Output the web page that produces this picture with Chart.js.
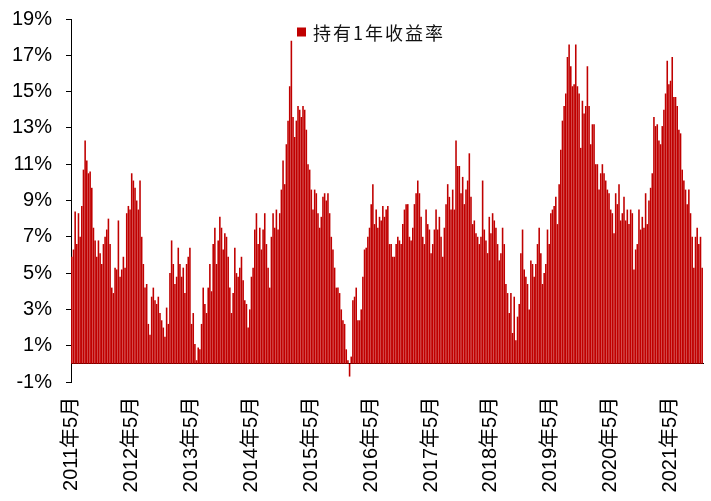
<!DOCTYPE html>
<html><head><meta charset="utf-8">
<script src="https://cdn.jsdelivr.net/npm/chart.js@4/dist/chart.umd.min.js"></script>
<style>html,body{margin:0;padding:0;background:#fff;overflow:hidden}</style>
</head><body>
<canvas id="c" width="711" height="501"></canvas>
<script>
const startYear = 2011, startMonth = 5;
const periodNames = ['上旬', '中旬', '下旬'];
const tickLabels = ['2011年5月','2012年5月','2013年5月','2014年5月','2015年5月','2016年5月','2017年5月','2018年5月','2019年5月','2020年5月','2021年5月'];
const seriesName = '持有1年收益率';
const returns1y = [
5.9,6.3,8.4,6.6,8.3,7.0,8.7,10.7,12.3,11.2,
10.5,10.6,9.7,7.5,6.8,5.9,6.8,6.1,5.5,6.6,
7.0,7.4,8.0,6.6,4.2,3.9,5.3,5.2,7.9,4.8,
5.2,5.9,5.3,8.3,8.7,8.5,10.5,10.1,9.7,9.0,
8.5,10.1,7.0,5.5,4.2,4.4,2.2,1.6,3.7,4.2,
3.5,3.3,3.7,2.8,2.4,2.0,1.5,3.1,2.2,5.0,
6.8,5.5,4.4,4.8,6.4,5.5,4.8,5.3,3.9,5.5,
5.9,6.4,2.2,2.8,1.1,0.2,0.9,0.8,2.2,4.2,
3.3,2.8,4.2,5.5,4.0,6.6,7.5,5.5,6.8,8.1,
7.5,6.3,7.2,7.0,5.9,4.2,2.8,3.9,6.4,5.0,
4.8,5.3,5.9,4.6,3.5,3.3,2.0,3.0,4.8,5.3,
7.4,8.3,6.6,7.5,6.3,7.4,8.3,6.6,5.3,4.2,
7.0,8.3,7.5,8.5,7.4,8.3,9.6,11.2,9.9,12.1,
13.4,15.3,17.8,13.6,12.5,13.4,14.2,14.0,13.6,14.2,
14.0,12.9,11.0,10.7,9.6,8.5,9.6,9.4,8.3,7.5,
8.1,9.2,9.4,9.0,9.4,8.3,7.0,6.3,5.3,4.2,
4.2,3.9,3.0,2.4,2.2,0.8,0.2,-0.7,0.4,3.5,
3.7,4.2,2.4,2.4,3.0,4.8,6.3,6.4,7.0,7.5,
8.8,9.9,7.7,8.5,7.5,8.1,7.9,8.7,8.1,8.5,
8.7,6.6,6.6,5.9,5.9,6.6,7.0,6.8,6.6,7.7,
8.5,8.8,8.8,7.0,6.8,7.5,8.8,9.4,10.1,9.4,
8.1,7.0,6.6,8.5,7.7,7.4,6.1,6.6,7.4,8.5,
7.4,8.1,7.0,5.9,7.5,8.8,9.9,9.2,8.5,9.6,
8.5,12.3,10.9,10.9,9.4,10.3,8.8,9.6,10.1,11.6,
9.2,7.7,7.9,7.2,7.0,6.6,7.0,10.1,7.4,6.8,
6.1,8.1,7.2,8.3,7.9,7.5,6.6,5.7,6.1,7.5,
6.6,4.4,3.9,2.8,3.9,1.7,3.7,1.3,2.6,3.3,
6.1,7.4,5.2,4.8,4.4,3.0,5.7,5.5,4.8,5.5,
6.6,7.5,6.1,4.4,5.0,5.5,7.4,6.6,8.3,8.5,
8.7,9.2,7.7,9.9,11.8,13.4,14.2,14.9,16.9,17.6,
16.4,15.3,15.4,17.6,15.3,14.9,11.9,14.5,13.8,14.2,
16.4,14.2,12.1,13.2,13.2,11.0,11.0,9.6,10.5,11.0,
10.5,10.1,9.6,9.4,8.5,8.3,7.2,9.4,8.8,9.9,
7.9,8.3,9.2,7.9,8.5,7.7,8.5,8.3,5.2,6.3,
6.6,8.5,7.4,8.1,7.5,9.4,7.7,9.0,9.7,10.5,
13.6,13.1,13.2,12.3,12.1,13.1,14.0,14.9,16.7,15.4,
15.6,16.9,14.7,14.7,14.2,12.9,12.7,10.7,10.1,9.6,
8.8,9.6,8.3,7.0,5.3,7.0,7.5,6.6,7.0,5.3
];
const categories = returns1y.map((_, i) => {
  const m = startMonth - 1 + Math.floor(i / 3);
  return (startYear + Math.floor(m / 12)) + '年' + (m % 12 + 1) + '月' + periodNames[i % 3];
});
const periodsPerYear = 36;
const barColor = '#C00000';
const fontFamily = "'Liberation Sans', 'Noto Sans CJK SC', sans-serif";

const topLegend = {
  id: 'topLegend',
  afterDraw(chart) {
    const ctx = chart.ctx, a = chart.chartArea;
    const x = a.left + 226, y = a.top + 13;
    ctx.save();
    ctx.fillStyle = barColor;
    ctx.fillRect(x, y - 4.5, 9, 9);
    ctx.fillStyle = '#111';
    ctx.font = "18px 'Noto Sans CJK SC'";
    ctx.textBaseline = 'middle';
    ctx.textAlign = 'left';
    try { ctx.letterSpacing = '2px'; } catch (e) {}
    ctx.fillText(seriesName, x + 16, y + 1);
    ctx.restore();
  }
};

new Chart(document.getElementById('c'), {
  type: 'bar',
  data: {
    labels: categories,
    datasets: [{
      label: seriesName,
      data: returns1y,
      backgroundColor: barColor,
      borderWidth: 0,
      barPercentage: 0.95,
      categoryPercentage: 1.0
    }]
  },
  options: {
    responsive: false,
    animation: false,
    events: [],
    layout: { padding: { left: 0, right: 8, top: 19, bottom: 119 } },
    plugins: { legend: { display: false }, tooltip: { enabled: false } },
    scales: {
      x: {
        position: { y: 0 },
        offset: true,
        grid: {
          drawOnChartArea: false,
          drawTicks: true,
          tickLength: 5,
          offset: true,
          tickColor: (c) => (c.index % periodsPerYear === 0 ? '#000' : 'rgba(0,0,0,0)'),
          color: 'rgba(0,0,0,0)'
        },
        border: { display: true, color: '#000', width: 1 },
        ticks: {
          autoSkip: false,
          minRotation: 90,
          maxRotation: 90,
          padding: 28,
          color: '#000',
          font: { family: fontFamily, size: 20 },
          callback: (v, i) => (i % periodsPerYear === 0 ? tickLabels[i / periodsPerYear] : null)
        },
        afterFit: (s) => { s.paddingLeft = 0; s.paddingRight = 0; }
      },
      y: {
        min: -1,
        max: 19,
        grid: { drawOnChartArea: false, drawTicks: true, tickLength: 5, color: '#000', tickColor: '#000' },
        border: { display: true, color: '#000', width: 1 },
        ticks: {
          stepSize: 2,
          padding: 14,
          color: '#000',
          font: { family: fontFamily, size: 20 },
          callback: (v) => v + '%'
        },
        afterFit: (s) => { s.width = 71; s.paddingTop = 0; s.paddingBottom = 0; }
      }
    }
  },
  plugins: [topLegend]
});
</script>
</body></html>
